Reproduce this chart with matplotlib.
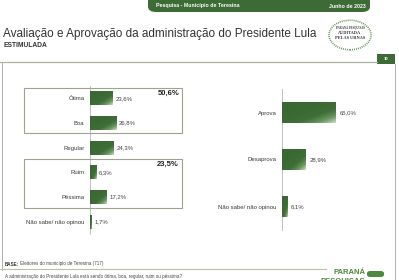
import numpy as np
import matplotlib.pyplot as plt
from matplotlib.patches import Rectangle, FancyBboxPatch, Circle
from matplotlib.colors import LinearSegmentedColormap

# ---- DATA ----
aval_cats = ["Ótima", "Boa", "Regular", "Ruim", "Péssima", "Não sabe/ não opinou"]
aval_vals = [23.6, 26.8, 24.3, 6.3, 17.2, 1.7]
aprov_cats = ["Aprova", "Desaprova", "Não sabe/ não opinou"]
aprov_vals = [65.0, 28.9, 6.1]
group_totals = ["50,6%", "23,5%"]

W, H = 399, 280
GREEN = "#3c6b35"
TXT = "#333333"
plt.rcParams['font.family'] = ['Liberation Sans', 'DejaVu Sans']

fig = plt.figure(figsize=(W / 100, H / 100), dpi=100)
fig.patch.set_facecolor("white")


def px(x, y, w, h):
    # pixel box (top-left origin) -> figure fraction
    return [x / W, 1 - (y + h) / H, w / W, h / H]


def fx(x):
    return x / W


def fy(y):
    return 1 - y / H


cmap = LinearSegmentedColormap.from_list("g", ["#3a6832", "#3f6f38", "#6f9a64", "#c9dcc3"])


def grad_bars(ax, vals, height):
    bars = ax.barh(range(len(vals)), vals, height=height, color=GREEN, zorder=2)
    gx, gy = np.meshgrid(np.linspace(0, 1, 40), np.linspace(0, 1, 20))
    g = np.clip((gx * 0.6 + gy * 0.6) - 0.2, 0, 1) ** 2
    for b in bars:
        x0, y0 = b.get_x(), b.get_y()
        im = ax.imshow(g, extent=[x0, x0 + b.get_width(), y0, y0 + b.get_height()],
                       cmap=cmap, vmin=0, vmax=1, aspect='auto', origin='lower',
                       zorder=3, interpolation='bilinear')
        im.set_clip_path(b)
    return bars


def style_ax(ax, cats, vals, xmax, fs):
    ax.set_xlim(0, xmax)
    ax.set_ylim(len(cats) - 0.5, -0.5)
    ax.set_yticks(range(len(cats)))
    ax.set_yticklabels(cats, fontsize=fs, color="#3a3a3a")
    ax.tick_params(axis='y', length=0, pad=4)
    ax.set_xticks([])
    for s in ['top', 'right', 'bottom']:
        ax.spines[s].set_visible(False)
    ax.spines['left'].set_color("#b5b5b5")
    ax.spines['left'].set_linewidth(0.6)
    ax.set_facecolor("none")
    for i, v in enumerate(vals):
        ax.text(v + xmax * 0.04, i, f"{v:.1f}%".replace(".", ","), va='center',
                ha='left', fontsize=fs, color="#444444")


# ---- left chart ----
axl = fig.add_axes(px(90, 86, 68, 148))
grad_bars(axl, aval_vals, 0.58)
style_ax(axl, aval_cats, aval_vals, 70, 4.3)

# ---- right chart ----
axr = fig.add_axes(px(282, 89, 83, 141))
grad_bars(axr, aprov_vals, 0.43)
style_ax(axr, aprov_cats, aprov_vals, 100, 4.3)

# group boxes
for (y0, y1), lab in zip([(88, 133), (159, 208)], group_totals):
    fig.patches.append(Rectangle((fx(24), fy(y1)), fx(182) - fx(24), fy(y0) - fy(y1),
                                 transform=fig.transFigure, fill=False,
                                 edgecolor="#9aa48f", linewidth=0.8, zorder=1))
    fig.text(fx(179), fy(y0 + 5), lab, ha='right', va='center', fontsize=5.5,
             fontweight='bold', color="#222222")

# ---- header ----
fig.patches.append(FancyBboxPatch((fx(148), fy(12)), fx(370) - fx(148), fy(-6) - fy(12),
                                  boxstyle="round,pad=0,rounding_size=0.02",
                                  transform=fig.transFigure, facecolor=GREEN,
                                  edgecolor='none'))
fig.text(fx(156), fy(6), "Pesquisa - Município de Teresina", fontsize=3.8,
         fontweight='bold', color='white', va='center', ha='left')
fig.text(fx(366), fy(6), "Junho de 2023", fontsize=3.8, fontweight='bold',
         color='white', va='center', ha='right')
fig.text(fx(3), fy(34), "Avaliação e Aprovação da administração do Presidente Lula",
         fontsize=8.5, color="#333333", va='center', ha='left')
fig.text(fx(3), fy(45.5), "ESTIMULADA", fontsize=4.8, fontweight='bold',
         color="#333333", va='center', ha='left')

# seal logo
fig.patches.append(Circle((fx(350), fy(35)), 21 / W, transform=fig.transFigure,
                          fill=False, edgecolor="#6a9a5c", linewidth=1.2,
                          linestyle=(0, (0.6, 0.6))))
for dy, t, s in [(28, "PARANÁ PESQUISAS", 2.2), (33, "AUDITADA", 3.2), (38, "PELAS URNAS", 3.2)]:
    fig.text(fx(350), fy(dy), t, fontsize=s, ha='center', va='center',
             family=['Liberation Serif', 'DejaVu Serif'], fontweight='bold', color="#333333")

# header line and page number
fig.add_artist(plt.Line2D([0, fx(377)], [fy(62), fy(62)], color="#a9b3a0", linewidth=0.9))
fig.patches.append(Rectangle((fx(377), fy(64)), fx(18), fy(54) - fy(64),
                             transform=fig.transFigure, facecolor=GREEN, edgecolor='none'))
fig.text(fx(386), fy(59), "10", fontsize=3, color='white', ha='center', va='center',
         fontweight='bold')

# side borders
fig.add_artist(plt.Line2D([fx(1.5), fx(1.5)], [fy(62), fy(270)], color="#b0b0b0", linewidth=0.7))
fig.add_artist(plt.Line2D([fx(394.5), fx(394.5)], [fy(64), fy(280)], color="#b0b0b0", linewidth=0.7))

# ---- footer ----
fig.text(fx(5), fy(264), "BASE:", fontsize=3.3, fontweight='bold', color="#333333",
         va='center', ha='left')
fig.text(fx(20), fy(264), "Eleitores do município de Teresina (717)", fontsize=3.3,
         color="#444444", va='center', ha='left')
fig.add_artist(plt.Line2D([0, fx(326)], [fy(269), fy(269)], color="#b8c0b0", linewidth=0.8))
fig.text(fx(5), fy(276.5), "A administração do Presidente Lula está sendo ótima, boa, regular, ruim ou péssima?",
         fontsize=3.3, color="#444444", va='center', ha='left')
fig.text(fx(365), fy(272.5), "PARANÁ", fontsize=5.5, fontweight='bold', color="#4e8a3e",
         va='center', ha='right')
fig.text(fx(365), fy(278), "PESQUISAS", fontsize=5.5, fontweight='bold', color="#4e8a3e",
         va='top', ha='right')
fig.patches.append(FancyBboxPatch((fx(367), fy(277)), fx(17), fy(271) - fy(277),
                                  boxstyle="round,pad=0,rounding_size=0.008",
                                  transform=fig.transFigure, facecolor="#4e8a3e",
                                  edgecolor='none'))

fig.savefig("out.png", dpi=100)
